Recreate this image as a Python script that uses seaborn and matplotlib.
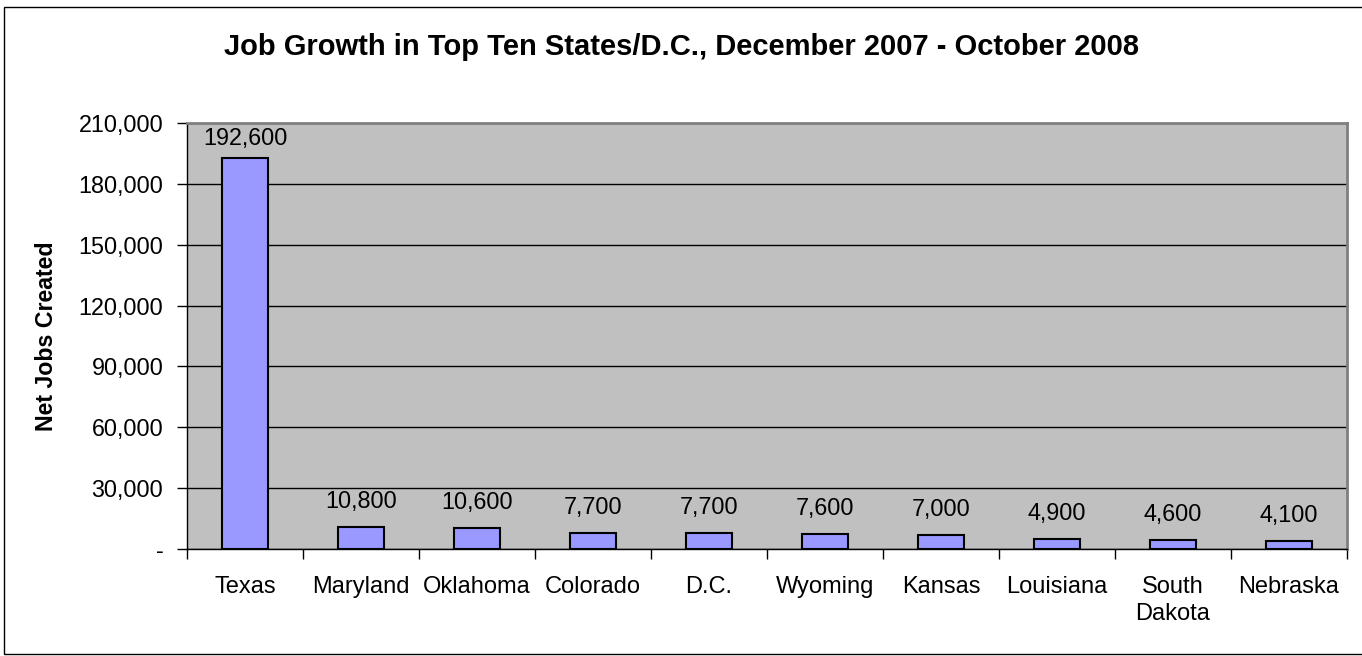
import matplotlib
matplotlib.use("Agg")
import matplotlib.pyplot as plt
import seaborn as sns
import pandas as pd
from matplotlib.patches import Rectangle
from matplotlib.ticker import FuncFormatter, FixedLocator

states = ["Texas", "Maryland", "Oklahoma", "Colorado", "D.C.", "Wyoming",
          "Kansas", "Louisiana", "South\nDakota", "Nebraska"]
jobs = [192600, 10800, 10600, 7700, 7700, 7600, 7000, 4900, 4600, 4100]
yticks = [0, 30000, 60000, 90000, 120000, 150000, 180000, 210000]

sns.set_style("white")
plt.rcParams["font.family"] = ["Liberation Sans", "DejaVu Sans"]
plt.rcParams["text.color"] = "black"
plt.rcParams["axes.labelcolor"] = "black"
plt.rcParams["xtick.color"] = "black"
plt.rcParams["ytick.color"] = "black"

df = pd.DataFrame({"state": states, "jobs": jobs})

fig = plt.figure(figsize=(13.62, 6.56), dpi=100)
ax = fig.add_axes([0.1373, 0.1631, 0.8517, 0.6494])
sns.barplot(data=df, x="state", y="jobs", color="#9999FF", width=0.4,
            edgecolor="black", linewidth=1.5, saturation=1, ax=ax)

ax.set_facecolor("#C0C0C0")
ax.set_ylim(0, 210000)
ax.set_xlim(-0.5, len(states) - 0.5)
ax.set_yticks(yticks)
ax.yaxis.set_major_formatter(FuncFormatter(lambda v, p: "-" if v == 0 else f"{int(v):,}"))
ax.grid(axis="y", color="black", linewidth=1)
ax.set_axisbelow(True)

anns = []
for i, v in enumerate(jobs):
    anns.append(ax.annotate(f"{v:,}", (i, v), xytext=(0, 10), textcoords="offset points",
                            ha="center", va="bottom", fontsize=16.8, color="black"))

ax.tick_params(axis="y", which="major", left=True, length=7, width=1,
               color="black", labelsize=16.8, pad=10)
ax.tick_params(axis="x", which="major", bottom=False, labelsize=17, pad=16)
for lab in ax.get_xticklabels():
    lab.set_linespacing(1.3)
ax.xaxis.set_minor_locator(FixedLocator([i + 0.5 for i in range(-1, len(states))]))
ax.tick_params(axis="x", which="minor", bottom=True, length=7, width=1, color="black")

for s in ["left", "bottom"]:
    ax.spines[s].set_color("black")
    ax.spines[s].set_linewidth(1)
for s in ["top", "right"]:
    ax.spines[s].set_color("#808080")
    ax.spines[s].set_linewidth(2)

ax.set_xlabel("")
ax.set_ylabel("Net Jobs Created", fontsize=16.7, fontweight="bold")
ax.yaxis.set_label_coords(-0.111, 0.5)

fig.text(0.5, 0.928, "Job Growth in Top Ten States/D.C., December 2007 - October 2008",
         ha="center", va="center", fontsize=21, fontweight="bold")

fig.patches.append(Rectangle((0.003, 0.003), 1.05, 0.987, transform=fig.transFigure,
                             fill=False, edgecolor="black", linewidth=1))

# keep data labels inside the plot area (like the original)
fig.canvas.draw()
top = ax.get_window_extent().y1 - 4
for a in anns:
    bb = a.get_window_extent()
    if bb.y1 > top:
        shift_pts = (bb.y1 - top) * 72 / fig.dpi
        a.xyann = (0, 10 - shift_pts)

fig.savefig("out.png", dpi=100)
